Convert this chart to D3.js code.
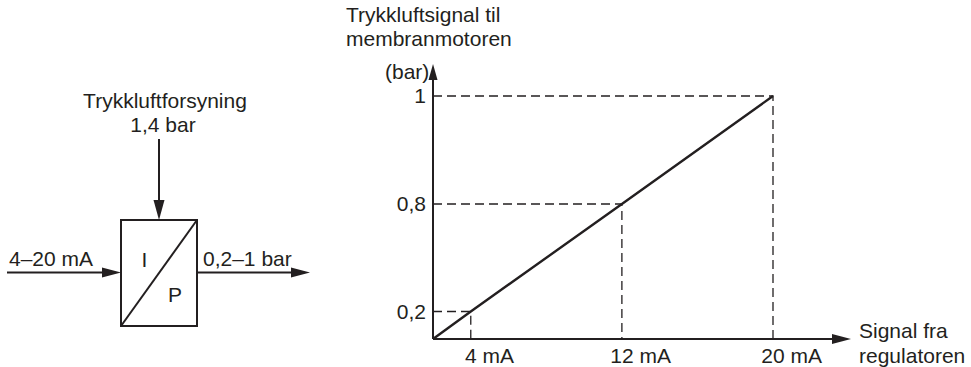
<!DOCTYPE html>
<html lang="no">
  <head>
    <meta charset="UTF-8" />
    <title>I/P-omformer: trykkluftsignal mot strømsignal</title>
    <style>
      html,
      body {
        margin: 0;
        padding: 0;
        background: #fff;
      }
      svg {
        display: block;
      }
      text {
        font-family: "Liberation Sans", Arial, Helvetica, sans-serif;
        font-size: 21px;
        fill: #231f20;
      }
    </style>
    <script src="https://cdn.jsdelivr.net/npm/d3@7/dist/d3.min.js"></script>
  </head>
  <body>
    <script>
      // signal (mA) and pressure (bar)
      const axisStartMA = 2;
      const currentTicks = [4, 12, 20];
      const currentLabels = ["4 mA", "12 mA", "20 mA"];
      const pressureTicks = [0.2, 0.8, 1];
      const pressureLabels = ["0,2", "0,8", "1"];
      const signalMA = [axisStartMA, 4, 12, 20];
      const signalBar = [0, 0.2, 0.8, 1];

      const width = 971;
      const height = 367;
      const ink = "#231f20";

      const svg = d3
        .select(document.body)
        .append("svg")
        .attr("width", width)
        .attr("height", height)
        .attr("viewBox", [0, 0, width, height]);

      // the drawing is not to scale on the pressure axis, so a piecewise scale
      const x = d3.scaleLinear().domain([axisStartMA, 20]).range([433, 773]);
      const y = d3
        .scaleLinear()
        .domain([0, 0.2, 0.8, 1])
        .range([339, 311.5, 204, 96]);

      const x0 = x(axisStartMA);
      const y0 = y(0);

      const arrowHead = (tx, ty, dir, len, half) => {
        // dir: "right" | "up" | "down"
        let p;
        if (dir === "right")
          p = [[tx, ty], [tx - len, ty - half], [tx - len, ty + half]];
        else if (dir === "up")
          p = [[tx, ty], [tx - half, ty + len], [tx + half, ty + len]];
        else p = [[tx, ty], [tx - half, ty - len], [tx + half, ty - len]];
        return "M" + p.join("L") + "Z";
      };

      // ---- left: I/P converter block ----
      const block = svg.append("g").attr("class", "block");
      const bx = 121, by = 220, bw = 76, bh = 106;

      block
        .append("rect")
        .attr("x", bx)
        .attr("y", by)
        .attr("width", bw)
        .attr("height", bh)
        .attr("fill", "none")
        .attr("stroke", ink)
        .attr("stroke-width", 2);

      block
        .append("line")
        .attr("x1", bx)
        .attr("y1", by + bh)
        .attr("x2", bx + bw)
        .attr("y2", by)
        .attr("stroke", ink)
        .attr("stroke-width", 2);

      block.append("text").attr("x", 144.5).attr("y", 267).attr("text-anchor", "middle").text("I");
      block.append("text").attr("x", 175).attr("y", 302).attr("text-anchor", "middle").text("P");

      // supply arrow from top
      const cx = bx + bw / 2;
      block
        .append("line")
        .attr("x1", cx)
        .attr("y1", 139)
        .attr("x2", cx)
        .attr("y2", by - 10)
        .attr("stroke", ink)
        .attr("stroke-width", 2);
      block.append("path").attr("d", arrowHead(cx, by, "down", 20, 5.5)).attr("fill", ink);
      block.append("text").attr("x", 165).attr("y", 108).attr("text-anchor", "middle").text("Trykkluftforsyning");
      block.append("text").attr("x", 163).attr("y", 132).attr("text-anchor", "middle").text("1,4 bar");

      // input arrow
      const ay = 272.5;
      block
        .append("line")
        .attr("x1", 7)
        .attr("y1", ay)
        .attr("x2", bx - 10)
        .attr("y2", ay)
        .attr("stroke", ink)
        .attr("stroke-width", 2);
      block.append("path").attr("d", arrowHead(bx, ay, "right", 19, 5)).attr("fill", ink);
      block.append("text").attr("x", 9).attr("y", 266).text("4–20 mA");

      // output arrow
      block
        .append("line")
        .attr("x1", bx + bw)
        .attr("y1", ay)
        .attr("x2", 300)
        .attr("y2", ay)
        .attr("stroke", ink)
        .attr("stroke-width", 2);
      block.append("path").attr("d", arrowHead(310, ay, "right", 19, 5)).attr("fill", ink);
      block.append("text").attr("x", 203).attr("y", 266).text("0,2–1 bar");

      // ---- right: characteristic ----
      const chart = svg.append("g").attr("class", "chart");

      // guide lines
      const guides = chart
        .append("g")
        .attr("fill", "none")
        .attr("stroke", ink)
        .attr("stroke-width", 1.3)
        .attr("stroke-dasharray", "9 5");

      guides
        .selectAll("path")
        .data(d3.zip(currentTicks, pressureTicks))
        .join("path")
        .attr("d", ([c, p]) => `M${x0},${y(p)}H${x(c)}V${y0}`);

      // characteristic line
      chart
        .append("path")
        .datum(d3.zip(signalMA, signalBar))
        .attr("fill", "none")
        .attr("stroke", ink)
        .attr("stroke-width", 2.4)
        .attr(
          "d",
          d3
            .line()
            .x((d) => x(d[0]))
            .y((d) => y(d[1]))
        );

      // axes with arrows
      chart
        .append("line")
        .attr("x1", x0)
        .attr("y1", y0)
        .attr("x2", 836)
        .attr("y2", y0)
        .attr("stroke", ink)
        .attr("stroke-width", 2);
      chart.append("path").attr("d", arrowHead(851, y0, "right", 19, 5)).attr("fill", ink);

      chart
        .append("line")
        .attr("x1", x0)
        .attr("y1", y0)
        .attr("x2", x0)
        .attr("y2", 78)
        .attr("stroke", ink)
        .attr("stroke-width", 2);
      chart.append("path").attr("d", arrowHead(x0, 64, "up", 16, 4.5)).attr("fill", ink);

      // y tick labels
      chart
        .append("g")
        .selectAll("text")
        .data(pressureTicks)
        .join("text")
        .attr("x", 426)
        .attr("y", (d) => y(d))
        .attr("dy", "0.35em")
        .attr("text-anchor", "end")
        .text((d, i) => pressureLabels[i]);

      // x tick labels: the number is centred on the tick
      chart
        .append("g")
        .selectAll("text")
        .data(currentTicks)
        .join("text")
        .attr("y", y0 + 24)
        .text((d, i) => currentLabels[i])
        .each(function (d) {
          const n = String(d).length;
          const w = this.getSubStringLength(0, n);
          d3.select(this).attr("x", x(d) - w / 2);
        });

      // axis titles
      chart.append("text").attr("x", 385).attr("y", 79).text("(bar)");
      chart.append("text").attr("x", 346).attr("y", 22).text("Trykkluftsignal til");
      chart.append("text").attr("x", 346).attr("y", 46).text("membranmotoren");
      chart.append("text").attr("x", 859).attr("y", 338).text("Signal fra");
      chart.append("text").attr("x", 859).attr("y", 363).text("regulatoren");
    </script>
  </body>
</html>
